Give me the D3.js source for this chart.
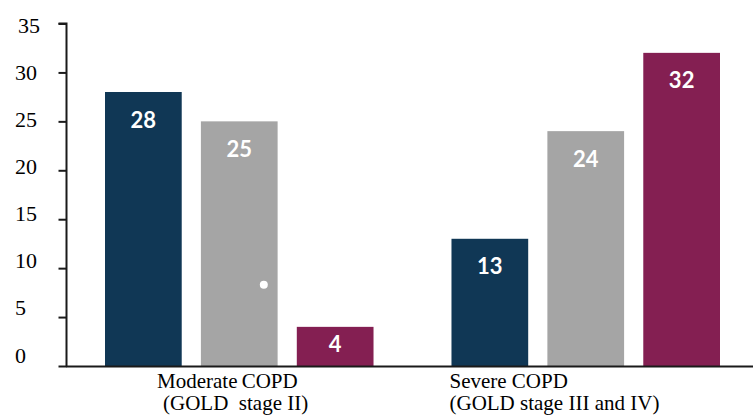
<!DOCTYPE html>
<html>
<head>
<meta charset="utf-8">
<script src="https://cdn.jsdelivr.net/npm/d3@7"></script>
<style>
  html, body { margin: 0; padding: 0; background: #ffffff; }
  svg { display: block; }
</style>
</head>
<body>
<svg id="chart" width="753" height="415"></svg>
<script>
// ---- data ----
const categories = ["Moderate COPD", "Severe COPD"];
const categorySubLabels = ["(GOLD  stage II)", "(GOLD stage III and IV)"];
const seriesNames = ["Series 1", "Series 2", "Series 3"];
const series1 = [28, 13];
const series2 = [25, 24];
const series3 = [4, 32];
const tickValues = [0, 5, 10, 15, 20, 25, 30, 35];

const colors = ["#103755", "#a5a5a5", "#841f52"];
const allSeries = [series1, series2, series3];

const svg = d3.select("#chart");
const W = 753, H = 415;

const y = d3.scaleLinear().domain([0, 35]).range([366, 23.5]);
// tick labels in the picture sit on a slightly tighter spacing than the ticks
const yLabel = d3.scaleLinear().domain([0, 35]).range([355, 25.5]);

const x0 = d3.scaleBand().domain(categories).range([105, 720])
  .paddingInner(0.225).paddingOuter(0);
const x1 = d3.scaleBand().domain(d3.range(seriesNames.length))
  .range([0, x0.bandwidth()]).paddingInner(0.2).paddingOuter(0);

// bars
const groups = svg.append("g").selectAll("g")
  .data(categories).join("g")
  .attr("transform", d => `translate(${x0(d)},0)`);

groups.each(function(cat, ci) {
  const g = d3.select(this);
  allSeries.forEach((s, si) => {
    const v = s[ci];
    const top = y(v), h = y(0) - y(v);
    g.append("rect")
      .attr("x", x1(si))
      .attr("y", top)
      .attr("width", x1.bandwidth())
      .attr("height", h)
      .attr("fill", colors[si]);
    g.append("text")
      .attr("x", x1(si) + x1.bandwidth() / 2)
      .attr("y", top + Math.min(27, h / 2 - 3))
      .attr("text-anchor", "middle")
      .attr("dominant-baseline", "central")
      .attr("font-family", "Lato, 'Open Sans', sans-serif")
      .attr("font-weight", "bold")
      .attr("font-size", 22)
      .attr("fill", "#ffffff")
      .text(v);
  });
});

// small white dot artifact on the grey bar
svg.append("circle")
  .attr("cx", x0(categories[0]) + x1(1) + x1.bandwidth() * 0.82)
  .attr("cy", y(8.3))
  .attr("r", 4)
  .attr("fill", "#ffffff");

// y axis (ticks only, labels drawn separately)
const yAxis = d3.axisLeft(y).tickValues(tickValues).tickSize(8).tickFormat("");
const gy = svg.append("g").attr("transform", "translate(66.5,0)").call(yAxis);
gy.select(".domain").attr("stroke", "#1a1a1a").attr("stroke-width", 2)
  .attr("d", `M-8,${y(35)}H0V${y(0)}`);
gy.selectAll(".tick line").attr("stroke", "#1a1a1a").attr("stroke-width", 2);

svg.append("g").selectAll("text")
  .data(tickValues).join("text")
  .attr("x", d => d === 35 ? 18 : 15)
  .attr("y", d => yLabel(d))
  .attr("dominant-baseline", "central")
  .attr("font-family", "'Liberation Serif', 'Times New Roman', serif")
  .attr("font-size", 22)
  .attr("fill", "#000")
  .text(d => d);

// x axis line
svg.append("line")
  .attr("x1", 66).attr("x2", W)
  .attr("y1", y(0) + 0.5).attr("y2", y(0) + 0.5)
  .attr("stroke", "#1a1a1a").attr("stroke-width", 2);

// category labels
const labelOffsets = [[52, 58], [-2, -2]];
const catLabels = svg.append("g")
  .attr("font-family", "'Liberation Serif', 'Times New Roman', serif")
  .attr("font-size", 21)
  .attr("fill", "#000");
categories.forEach((c, i) => {
  catLabels.append("text")
    .attr("x", x0(c) + labelOffsets[i][0])
    .attr("y", 388)
    .text(i === 0 ? "Moderate\u2009COPD" : c);
  catLabels.append("text")
    .attr("x", x0(c) + labelOffsets[i][1])
    .attr("y", 410)
    .attr("xml:space", "preserve")
    .style("white-space", "pre")
    .text(categorySubLabels[i]);
});
</script>
</body>
</html>
